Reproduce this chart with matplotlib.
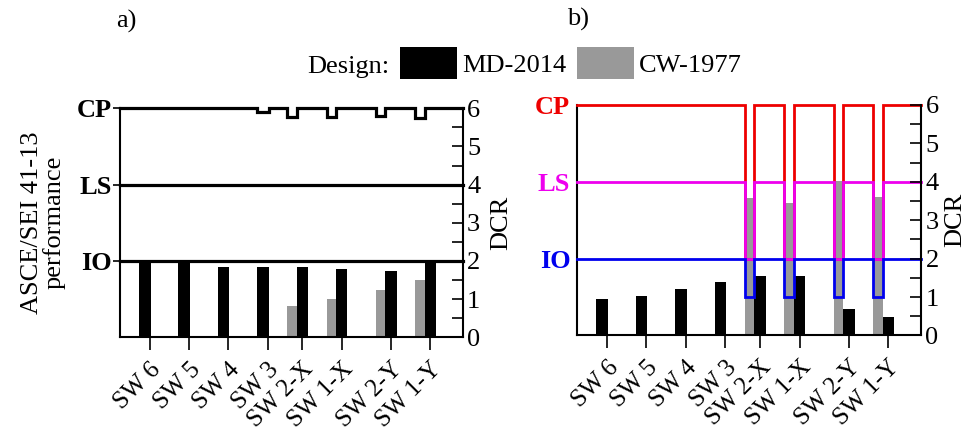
import matplotlib
matplotlib.use('Agg')
import matplotlib.pyplot as plt
import numpy as np
from matplotlib.ticker import MultipleLocator

plt.rcParams['font.family'] = ['Liberation Serif', 'DejaVu Serif']

# ---------------- data ----------------
walls = ["SW 6", "SW 5", "SW 4", "SW 3", "SW 2-X", "SW 1-X", "SW 2-Y", "SW 1-Y"]

# panel a)
md_dcr_a = [1.95, 1.98, 1.83, 1.85, 1.85, 1.80, 1.75, 2.00]
cw_dcr_a = [0, 0, 0, 0, 0.82, 1.01, 1.25, 1.50]
md_cp_a = [6, 6, 6, 5.9, 6, 6, 6, 6]
cw_cp_a = [6, 6, 6, 6, 5.78, 5.78, 5.80, 5.74]

# panel b)
md_dcr_b = [0.955, 1.02, 1.21, 1.40, 1.54, 1.54, 0.69, 0.48]
cw_dcr_b = [0, 0, 0, 0, 3.57, 3.46, 4.02, 3.60]
cw_cp_b = [6, 6, 6, 6, 2, 2, 2, 2]
cw_ls_b = [4, 4, 4, 4, 2, 2, 2, 2]
cw_io_b = [2, 2, 2, 2, 1, 1, 1, 1]

perf_levels = [2, 4, 6]
perf_labels = ["IO", "LS", "CP"]
dcr_ticks = [0, 1, 2, 3, 4, 5, 6]
legend_labels = ["MD-2014", "CW-1977"]

# ---------------- layout ----------------
x_md = np.array([0, 1, 2, 3, 4, 5, 6.25, 7.25])
w_md, w_cw = 0.29, 0.24
x_cw = x_md - (w_md + w_cw) / 2
x_tick = x_md + np.array([0.12] * 4 + [0] * 4)
xlim = (-0.63, 8.08)
FS = 19
FS_X = 18
BLACK = 'black'
GRAY = '#999999'


def step_path(base, dips, xlim):
    xs, ys = [xlim[0]], [base]
    for c, w, v in sorted(dips):
        if v != base:
            x0, x1 = c - w / 2, c + w / 2
            xs += [x0, x0, x1, x1]
            ys += [base, v, v, base]
    xs.append(xlim[1])
    ys.append(base)
    return xs, ys


fig = plt.figure(figsize=(9.67, 4.32), dpi=100)
ax_a = fig.add_axes([0.1241, 0.2192, 0.3547, 0.5301])
ax_b = fig.add_axes([0.5970, 0.2234, 0.3557, 0.5336])


def setup(ax, label_colors, left_tick_len):
    ax.set_xlim(*xlim)
    ax.set_ylim(0, 6)
    ax.spines['top'].set_visible(False)
    ax.spines['right'].set_visible(False)
    ax.set_yticks(perf_levels)
    ax.set_yticklabels(perf_labels, fontsize=FS, fontweight='bold')
    for t, c in zip(ax.get_yticklabels(), label_colors):
        t.set_color(c)
    ax.tick_params(axis='y', direction='out', length=left_tick_len, width=1.2,
                   pad=1 if left_tick_len else 5)
    ax.set_xticks(x_tick)
    ax.set_xticklabels(walls, fontsize=FS_X, rotation=45, ha='right',
                       va='top', rotation_mode='anchor')
    ax.tick_params(axis='x', direction='out', length=9, width=1.2, pad=6)
    for s in ['left', 'bottom']:
        ax.spines[s].set_linewidth(1.5)
    ax2 = ax.twinx()
    ax2.set_ylim(0, 6)
    ax2.spines['top'].set_visible(False)
    ax2.spines['left'].set_visible(False)
    ax2.spines['bottom'].set_visible(False)
    ax2.spines['right'].set_linewidth(1.5)
    ax2.set_yticks(dcr_ticks)
    ax2.set_yticklabels([str(v) for v in dcr_ticks], fontsize=FS)
    ax2.yaxis.set_minor_locator(MultipleLocator(0.5))
    ax2.tick_params(axis='y', which='major', direction='in', length=8, width=1.2, pad=3)
    ax2.tick_params(axis='y', which='minor', direction='in', length=8, width=1.2)
    return ax2


ax2_a = setup(ax_a, [BLACK] * 3, 5)
ax2_b = setup(ax_b, ['#0000ee', '#ee00ee', '#ee0000'], 0)

# ---- panel a ----
bars_md = ax_a.bar(x_md, md_dcr_a, width=w_md, color=BLACK, linewidth=0, zorder=2)
bars_cw = ax_a.bar(x_cw, cw_dcr_a, width=w_cw, color=GRAY, linewidth=0, zorder=2)
dips_a = [(c, w_md, v) for c, v in zip(x_md, md_cp_a)] + \
         [(c, w_cw, v) for c, v in zip(x_cw, cw_cp_a)]
xs, ys = step_path(6, dips_a, xlim)
ax_a.plot(xs, ys, color=BLACK, lw=2.3, clip_on=False, zorder=3,
          solid_joinstyle='miter')
for lev in [4, 2]:
    xs, ys = step_path(lev, [], xlim)
    ax_a.plot(xs, ys, color=BLACK, lw=2.3, clip_on=False, zorder=3)

ax_a.yaxis.set_label_coords(-0.16, 0.5)
ax_a.set_ylabel("ASCE/SEI 41-13\nperformance", fontsize=FS, linespacing=0.95)
ax2_a.set_ylabel("DCR", fontsize=FS, rotation=90)
ax2_a.yaxis.set_label_coords(1.08, 0.5)

# ---- panel b ----
ax_b.bar(x_md, md_dcr_b, width=w_md, color=BLACK, linewidth=0, zorder=2)
ax_b.bar(x_cw, cw_dcr_b, width=w_cw, color=GRAY, linewidth=0, zorder=2)
for base, lim, col in [(6, cw_cp_b, '#ee0000'), (4, cw_ls_b, '#ee00ee'),
                       (2, cw_io_b, '#0000ee')]:
    xs, ys = step_path(base, [(c, w_cw, v) for c, v in zip(x_cw, lim)], xlim)
    ax_b.plot(xs, ys, color=col, lw=2.0, clip_on=False, zorder=3,
              solid_joinstyle='miter')
ax2_b.set_ylabel("DCR", fontsize=FS, rotation=90)
ax2_b.yaxis.set_label_coords(1.068, 0.5)

# ---- titles & legend ----
fig.text(126 / 967, 1 - 21 / 432, "a)", ha='center', va='center', fontsize=FS)
fig.text(578 / 967, 1 - 19 / 432, "b)", ha='center', va='center', fontsize=FS)
fig.text(389 / 967, 1 - 73 / 432, "Design:", ha='right', va='baseline', fontsize=FS)
fig.legend([bars_md, bars_cw], legend_labels, loc='center left',
           bbox_to_anchor=(400 / 967, 1 - 63 / 432), ncol=2, frameon=False,
           fontsize=FS, handlelength=2.16, handleheight=1.49,
           handletextpad=0.19, columnspacing=0.42, borderpad=0,
           borderaxespad=0)

fig.savefig("out.png", dpi=100)
